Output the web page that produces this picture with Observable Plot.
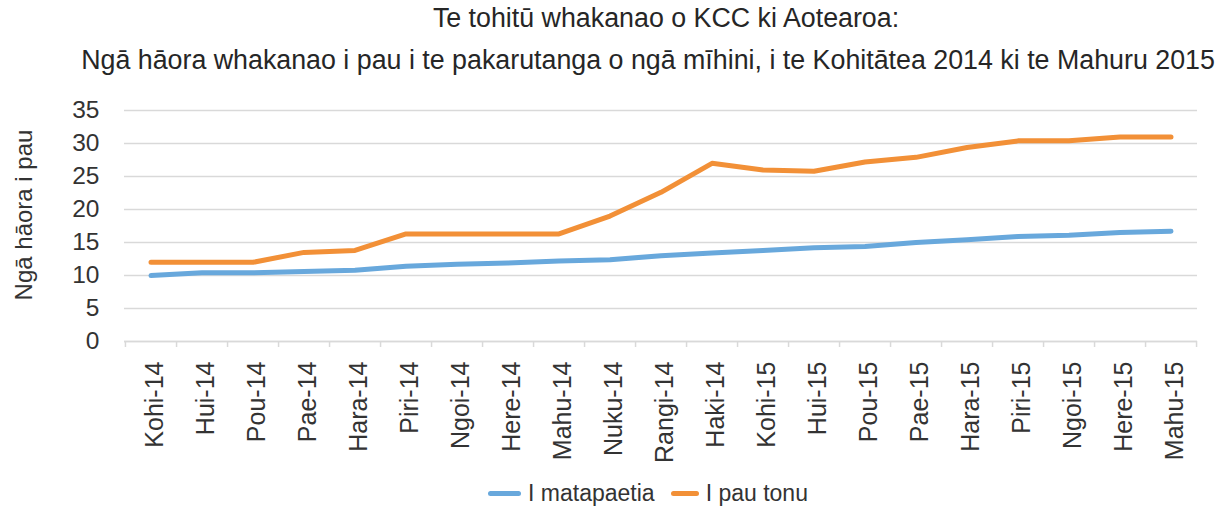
<!DOCTYPE html>
<html>
<head>
<meta charset="utf-8">
<script src="https://cdn.jsdelivr.net/npm/d3@7"></script>
<script src="https://cdn.jsdelivr.net/npm/@observablehq/plot@0.6"></script>
<style>
  html, body { margin: 0; padding: 0; background: #fff; }
  body { width: 1226px; height: 509px; overflow: hidden; font-family: "Liberation Sans", Arial, sans-serif; }
  .t { font-size: 26.8px; color: #262626; text-align: center; white-space: nowrap; height: 40px; line-height: 40px; }
  #t1 { padding-left: 106px; margin-top: -2px; height: 42px; }
  #t2 { padding-left: 70px; }
  #legend { display: flex; justify-content: center; align-items: center; height: 26px; padding-left: 70px; font-size: 23px; color: #333; }
  .sw { display: inline-block; height: 5px; border-radius: 3px; margin-right: 7px; }
  .item { display: flex; align-items: center; margin: 0 8px; }
</style>
</head>
<body>
<div id="t1" class="t">Te tohitū whakanao o KCC ki Aotearoa:</div>
<div id="t2" class="t">Ngā hāora whakanao i pau i te pakarutanga o ngā mīhini, i te Kohitātea 2014 ki te Mahuru 2015</div>
<div id="chart"></div>
<div id="legend"></div>
<script>
const months = ["Kohi-14","Hui-14","Pou-14","Pae-14","Hara-14","Piri-14","Ngoi-14","Here-14","Mahu-14","Nuku-14","Rangi-14","Haki-14","Kohi-15","Hui-15","Pou-15","Pae-15","Hara-15","Piri-15","Ngoi-15","Here-15","Mahu-15"];
const forecast = [10.0,10.4,10.4,10.6,10.8,11.4,11.7,11.9,12.2,12.4,13.0,13.4,13.8,14.2,14.4,15.0,15.4,15.9,16.1,16.5,16.7];
const actual = [12.0,12.0,12.0,13.5,13.8,16.3,16.3,16.3,16.3,19.0,22.6,27.0,26.0,25.8,27.2,27.9,29.4,30.4,30.4,31.0,31.0];
const seriesNames = ["I matapaetia", "I pau tonu"];
const seriesColors = ["#68a8dc", "#f29037"];
const yTicks = [0,5,10,15,20,25,30,35];
const yLabel = "Ngā hāora i pau";

const data = [
  ...months.map((m, i) => ({month: m, value: forecast[i], series: seriesNames[0]})),
  ...months.map((m, i) => ({month: m, value: actual[i], series: seriesNames[1]}))
];

const W = 1226, ML = 124, MR = 29;
const bw = (W - ML - MR) / months.length;
const grid = "#d9d9d9";

const chart = Plot.plot({
  width: W,
  height: 400,
  marginLeft: ML,
  marginRight: MR,
  marginTop: 30,
  marginBottom: 139,
  style: {fontFamily: "'Liberation Sans', Arial, sans-serif", background: "#fff"},
  x: {type: "band", domain: months, padding: 0, label: null},
  y: {domain: [0, 35], label: null},
  color: {domain: seriesNames, range: seriesColors},
  marks: [
    Plot.gridY(yTicks, {stroke: grid, strokeOpacity: 1, strokeWidth: 1.5}),
    Plot.axisY({ticks: yTicks, tickSize: 0, tickPadding: 25, fontSize: 24.5, fill: "#333", label: null}),
    Plot.axisX({tickSize: 0, tickRotate: -90, tickPadding: 20, fontSize: 25, fill: "#333", label: null, dx: 4}),
    Plot.axisX({ticks: months, tickSize: 6, tickFormat: () => "", stroke: grid, strokeWidth: 1.5, dx: bw / 2, label: null}),
    Plot.axisX({ticks: [months[0]], tickSize: 6, tickFormat: () => "", stroke: grid, strokeWidth: 1.5, dx: -bw / 2, label: null}),
    Plot.ruleY([0], {stroke: grid, strokeWidth: 1.5}),
    Plot.line(data, {x: "month", y: "value", z: "series", stroke: "series", strokeWidth: 5, strokeLinecap: "round", strokeLinejoin: "round"}),
    Plot.text([yLabel], {frameAnchor: "left", textAnchor: "middle", text: d => d, rotate: -90, dx: -100, dy: -11, fontSize: 24, fill: "#333"})
  ]
});
document.getElementById("chart").appendChild(chart);

const legend = document.getElementById("legend");
seriesNames.forEach((name, i) => {
  const item = document.createElement("div");
  item.className = "item";
  const sw = document.createElement("span");
  sw.className = "sw";
  sw.style.background = seriesColors[i];
  sw.style.width = (i === 0 ? 33 : 28) + "px";
  const tx = document.createElement("span");
  tx.textContent = name;
  item.appendChild(sw);
  item.appendChild(tx);
  legend.appendChild(item);
});
</script>
</body>
</html>
